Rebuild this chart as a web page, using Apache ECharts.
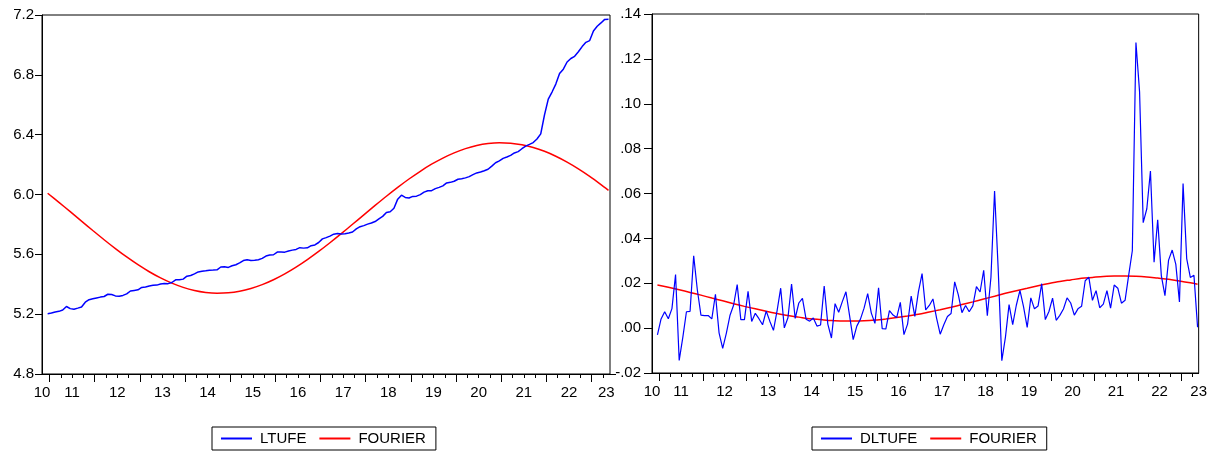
<!DOCTYPE html>
<html>
<head>
<meta charset="utf-8">
<script src="https://cdn.jsdelivr.net/npm/echarts@6.0.0/dist/echarts.min.js"></script>
<style>
html,body{margin:0;padding:0;background:#fff;}
#chart{width:1210px;height:457px;}
</style>
</head>
<body>
<div id="chart"></div>
<script>
// Monthly series, first observation 2010-12, last 2023-05
const startPeriod = '2010-12';
const ltufe = [
5.2032,
5.2073,5.2146,5.2188,5.2275,5.2514,5.2370,5.2329,5.2402,5.2477,5.2799,5.2970,5.3028,
5.3084,5.3140,5.3181,5.3332,5.3311,5.3221,5.3198,5.3254,5.3356,5.3550,5.3588,5.3626,
5.3790,5.3820,5.3886,5.3928,5.3943,5.4019,5.4050,5.4040,5.4117,5.4295,5.4296,5.4342,
5.4538,5.4581,5.4693,5.4826,5.4866,5.4897,5.4942,5.4951,5.4965,5.5153,5.5171,5.5127,
5.5236,5.5307,5.5425,5.5587,5.5643,5.5592,5.5601,5.5641,5.5730,5.5884,5.5951,5.5972,
5.6152,5.6150,5.6146,5.6224,5.6282,5.6329,5.6444,5.6415,5.6433,5.6576,5.6628,5.6791,
5.7034,5.7115,5.7216,5.7346,5.7391,5.7364,5.7379,5.7431,5.7496,5.7702,5.7850,5.7919,
5.8020,5.8093,5.8192,5.8377,5.8538,5.8796,5.8851,5.9078,5.9689,5.9952,5.9807,5.9767,
5.9872,5.9888,5.9990,6.0158,6.0253,6.0256,6.0391,6.0477,6.0576,6.0774,6.0812,6.0886,
6.1020,6.1055,6.1112,6.1197,6.1332,6.1444,6.1502,6.1588,6.1685,6.1896,6.2123,6.2247,
6.2414,6.2505,6.2612,6.2779,6.2868,6.3060,6.3238,6.3349,6.3473,6.3709,6.4054,6.5327,
6.6380,6.6850,6.7382,6.8082,6.8376,6.8859,6.9093,6.9238,6.9541,6.9889,7.0173,7.0290,
7.0934,7.1244,7.1470,7.1706,7.1710
];
const dltufe = [
-0.0030,
0.0041,0.0073,0.0042,0.0087,0.0239,-0.0144,-0.0041,0.0073,0.0075,0.0322,0.0171,0.0058,
0.0056,0.0056,0.0041,0.0151,-0.0021,-0.0090,-0.0023,0.0056,0.0102,0.0194,0.0038,0.0038,
0.0164,0.0030,0.0066,0.0042,0.0015,0.0076,0.0031,-0.0010,0.0077,0.0178,0.0001,0.0046,
0.0196,0.0043,0.0112,0.0133,0.0040,0.0031,0.0045,0.0009,0.0014,0.0188,0.0018,-0.0044,
0.0109,0.0071,0.0118,0.0162,0.0056,-0.0051,0.0009,0.0040,0.0089,0.0154,0.0067,0.0021,
0.0180,-0.0002,-0.0004,0.0078,0.0058,0.0047,0.0115,-0.0029,0.0018,0.0143,0.0052,0.0163,
0.0243,0.0081,0.0101,0.0130,0.0045,-0.0027,0.0015,0.0052,0.0065,0.0206,0.0148,0.0069,
0.0101,0.0073,0.0099,0.0185,0.0161,0.0258,0.0055,0.0227,0.0611,0.0263,-0.0145,-0.0040,
0.0105,0.0016,0.0102,0.0168,0.0095,0.0003,0.0135,0.0086,0.0099,0.0198,0.0038,0.0074,
0.0134,0.0035,0.0057,0.0085,0.0135,0.0112,0.0058,0.0086,0.0097,0.0211,0.0227,0.0124,
0.0167,0.0091,0.0107,0.0167,0.0089,0.0192,0.0178,0.0111,0.0124,0.0236,0.0345,0.1273,
0.1053,0.0470,0.0532,0.0700,0.0294,0.0483,0.0234,0.0145,0.0303,0.0348,0.0284,0.0117,
0.0644,0.0310,0.0226,0.0236,0.0004
];
// FOURIER fitted curves read at quarterly points
const fourierPeriods = [
'2010-12','2011-03','2011-06','2011-09','2011-12','2012-03','2012-06','2012-09','2012-12',
'2013-03','2013-06','2013-09','2013-12','2014-03','2014-06','2014-09','2014-12',
'2015-03','2015-06','2015-09','2015-12','2016-03','2016-06','2016-09','2016-12',
'2017-03','2017-06','2017-09','2017-12','2018-03','2018-06','2018-09','2018-12',
'2019-03','2019-06','2019-09','2019-12','2020-03','2020-06','2020-09','2020-12',
'2021-03','2021-06','2021-09','2021-12','2022-03','2022-06','2022-09','2022-12',
'2023-03','2023-05'];
const fourierLevel = [
6.0084,5.9476,5.8851,5.8219,5.7591,5.6976,5.6384,5.5824,5.5306,
5.4836,5.4424,5.4074,5.3793,5.3585,5.3454,5.3401,5.3428,
5.3533,5.3715,5.3972,5.4300,5.4692,5.5143,5.5646,5.6194,
5.6776,5.7384,5.8009,5.8641,5.9269,5.9884,6.0476,6.1036,
6.1554,6.2024,6.2436,6.2786,6.3067,6.3275,6.3406,6.3459,
6.3432,6.3327,6.3145,6.2888,6.2560,6.2168,6.1717,6.1214,
6.0666,6.0282];
const fourierDiff = [
0.0192,0.0182,0.0171,0.0159,0.0147,0.0134,0.0122,0.0109,0.0097,
0.0086,0.0075,0.0065,0.0056,0.0049,0.0042,0.0038,0.0034,
0.0032,0.0032,0.0033,0.0036,0.0041,0.0047,0.0054,0.0062,
0.0072,0.0082,0.0093,0.0105,0.0117,0.0130,0.0142,0.0155,
0.0167,0.0178,0.0189,0.0199,0.0208,0.0215,0.0222,0.0226,
0.0230,0.0232,0.0232,0.0231,0.0228,0.0223,0.0218,0.0210,
0.0202,0.0196];
const yearLabels = ['10','11','12','13','14','15','16','17','18','19','20','21','22','23'];
const leftTitles = ['LTUFE','FOURIER'];
const rightTitles = ['DLTUFE','FOURIER'];

// ---- helpers ----
function periodIndex(p){
  const [y,m] = p.split('-').map(Number);
  const [y0,m0] = startPeriod.split('-').map(Number);
  return (y-y0)*12 + (m-m0);
}
const nObs = ltufe.length;
const xMin = -1.5;
const xMaxL = nObs - 1 + 0.4;
const xMaxR = nObs - 1 + 0.3;
const firstJan = periodIndex('2011-01');

function yearTicks(xMax){
  const major=[], minor=[];
  for(let v=firstJan-0.5, k=0; v<=xMax; v+=3, k++){
    if(k%4===0) major.push(v); else minor.push(v);
  }
  return {major, minor};
}
function labelVals(xMax, lastPos){
  const vals=[xMin];
  for(let i=1;i<yearLabels.length-1;i++) vals.push(firstJan-0.5+12*(i-1)+6);
  vals.push(lastPos);
  return vals;
}
const monthly = arr => arr.map((v,i)=>[i,v]);
const quarterly = arr => arr.map((v,i)=>[periodIndex(fourierPeriods[i]),v]);

const FONT = 'Liberation Sans, Arial, sans-serif';
const txt = {color:'#000', fontFamily:FONT, fontSize:15};

function xAxes(gridIndex, xMax, lastPos){
  const t = yearTicks(xMax);
  const lv = labelVals(xMax, lastPos);
  return [
    {type:'value', gridIndex, min:xMin, max:xMax, position:'bottom',
     splitLine:{show:false},
     axisLine:{show:true, onZero:false, lineStyle:{color:'#000', width:1}},
     axisTick:{show:true, inside:false, length:8, customValues:t.major, lineStyle:{color:'#000'}},
     axisLabel:{show:true, customValues:lv, margin:11, ...txt,
       alignMinLabel:'center', alignMaxLabel:'center',
       formatter:(v)=>{ let best=0, d=1e9; lv.forEach((x,i)=>{ if(Math.abs(x-v)<d){d=Math.abs(x-v);best=i;} }); return yearLabels[best]; }}
    },
    {type:'value', gridIndex, min:xMin, max:xMax, position:'bottom',
     splitLine:{show:false},
     axisLine:{show:false, onZero:false},
     axisTick:{show:true, inside:false, length:4, customValues:t.minor, lineStyle:{color:'#000'}},
     axisLabel:{show:false}
    }
  ];
}

const chart = echarts.init(document.getElementById('chart'), null, {renderer:'canvas', width:1210, height:457});

const legendBase = {
  orient:'horizontal', icon:'rect', itemWidth:31, itemHeight:2, itemGap:13,
  borderColor:'#000', borderWidth:1, padding:[4,10,4,9], selectedMode:false,
  textStyle:{...txt, padding:[0,0,0,3]}, top:427
};

chart.setOption({
  animation:false,
  backgroundColor:'#fff',
  grid:[
    {left:42, right:600, top:15, bottom:83, show:true, borderColor:'#000', borderWidth:1, backgroundColor:'transparent'},
    {left:652, right:9, top:14, bottom:84, show:true, borderColor:'#000', borderWidth:1, backgroundColor:'transparent'}
  ],
  xAxis:[...xAxes(0, xMaxL, xMaxL - 1.0), ...xAxes(1, xMaxR, xMaxR)],
  yAxis:[
    {type:'value', gridIndex:0, min:4.8, max:7.2, interval:0.4, position:'left',
     splitLine:{show:false},
     axisLine:{show:true, onZero:false, lineStyle:{color:'#000'}},
     axisTick:{show:true, length:7, lineStyle:{color:'#000'}},
     axisLabel:{...txt, margin:8, formatter:v=>v.toFixed(1)}},
    {type:'value', gridIndex:0, min:4.8, max:7.2, position:'right',
     splitLine:{show:false},
     axisLine:{show:false, onZero:false},
     axisTick:{show:true, length:6, customValues:[4.8], lineStyle:{color:'#000'}},
     axisLabel:{show:false}},
    {type:'value', gridIndex:1, min:-0.02, max:0.14, interval:0.02, position:'left',
     splitLine:{show:false},
     axisLine:{show:true, onZero:false, lineStyle:{color:'#000'}},
     axisTick:{show:true, length:8, lineStyle:{color:'#000'}},
     axisLabel:{...txt, margin:11, formatter:v=>(v< -1e-9?'-':'')+Math.abs(v).toFixed(2).replace(/^0/,'')}}
  ],
  legend:[
    {...legendBase, left:212, data:leftTitles.map(n=>({name:n}))},
    {...legendBase, left:812, data:rightTitles.map(n=>({name:n}))}
  ],
  series:[
    {name:leftTitles[0], type:'line', xAxisIndex:0, yAxisIndex:0, data:monthly(ltufe),
     showSymbol:false, symbol:'none', lineStyle:{color:'#0000ff', width:1.5}, itemStyle:{color:'#0000ff'}, z:3},
    {name:leftTitles[1], type:'line', xAxisIndex:0, yAxisIndex:0, data:quarterly(fourierLevel), smooth:0.3,
     showSymbol:false, symbol:'none', lineStyle:{color:'#ff0000', width:1.5}, itemStyle:{color:'#ff0000'}, z:2},
    {name:rightTitles[0], type:'line', xAxisIndex:2, yAxisIndex:2, data:monthly(dltufe),
     showSymbol:false, symbol:'none', lineStyle:{color:'#0000ff', width:1.2}, itemStyle:{color:'#0000ff'}, z:3},
    {name:rightTitles[1], type:'line', xAxisIndex:2, yAxisIndex:2, data:quarterly(fourierDiff), smooth:0.3,
     showSymbol:false, symbol:'none', lineStyle:{color:'#ff0000', width:1.5}, itemStyle:{color:'#ff0000'}, z:2}
  ]
});
</script>
</body>
</html>
